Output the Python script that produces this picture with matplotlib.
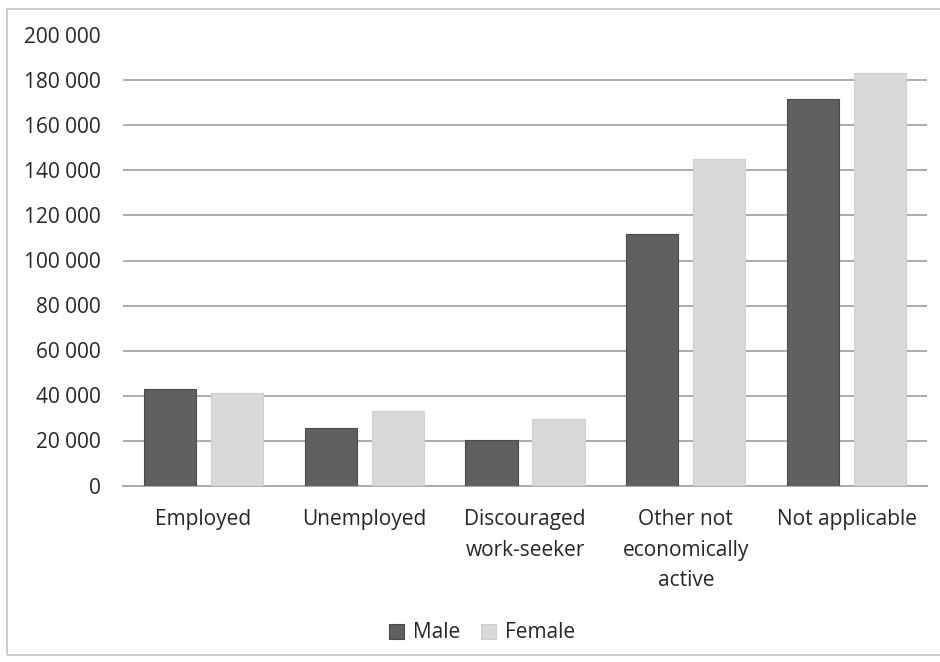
import matplotlib.pyplot as plt
import numpy as np
from matplotlib.ticker import FuncFormatter
from matplotlib.patches import Rectangle

categories = ["Employed", "Unemployed", "Discouraged\nwork-seeker",
              "Other not\neconomically\nactive", "Not applicable"]
male = [42800, 25400, 20200, 111600, 171600]
female = [41200, 33000, 29600, 145000, 183200]
series_names = ["Male", "Female"]

plt.rcParams['font.family'] = ['Open Sans', 'DejaVu Sans']

fig = plt.figure(figsize=(9.40, 6.62), dpi=100)
ax = fig.add_axes([123 / 940, 1 - 485.5 / 662, 804 / 940, 450 / 662])

x = np.arange(len(categories))
w = 0.325
off = 0.208
ax.bar(x - off, male, w, color="#606060", edgecolor="#4a4a4a", linewidth=0.8,
       label=series_names[0], zorder=3)
ax.bar(x + off, female, w, color="#d9d9d9", edgecolor="#cfcfcf", linewidth=0.8,
       label=series_names[1], zorder=3)

ax.set_xlim(-0.5, len(categories) - 0.5)
ax.set_ylim(0, 200000)
ax.set_yticks(np.arange(0, 200001, 20000))
ax.yaxis.set_major_formatter(FuncFormatter(lambda v, p: f"{int(v):,}".replace(",", " ")))
ax.grid(axis="y", color="#a6a6a6", linewidth=1.3, zorder=0)
ax.set_axisbelow(True)
for s in ["top", "right", "left"]:
    ax.spines[s].set_visible(False)
ax.spines["bottom"].set_color("#a6a6a6")
ax.spines["bottom"].set_linewidth(1.3)
fs = 15
ax.tick_params(axis="y", length=0, pad=16, labelsize=fs, labelcolor="#262626")
ax.tick_params(axis="x", length=0, pad=17, labelsize=fs, labelcolor="#262626")
ax.set_xticks(x)
ax.set_xticklabels(categories, linespacing=1.6)

leg = fig.legend(loc="center", bbox_to_anchor=(482 / 940, 1 - 633 / 662), ncol=2,
                 frameon=False, fontsize=fs, handlelength=0.7, handleheight=0.7,
                 handletextpad=0.45, columnspacing=1.0)
for t in leg.get_texts():
    t.set_color("#262626")

# Light frame around the chart area
fig.patches.append(Rectangle((7 / 940, 7 / 662), 1.2, 1 - 15.5 / 662,
                             transform=fig.transFigure, fill=False,
                             edgecolor="#c8c8c8", linewidth=1.3))

fig.savefig("out.png", dpi=100)
